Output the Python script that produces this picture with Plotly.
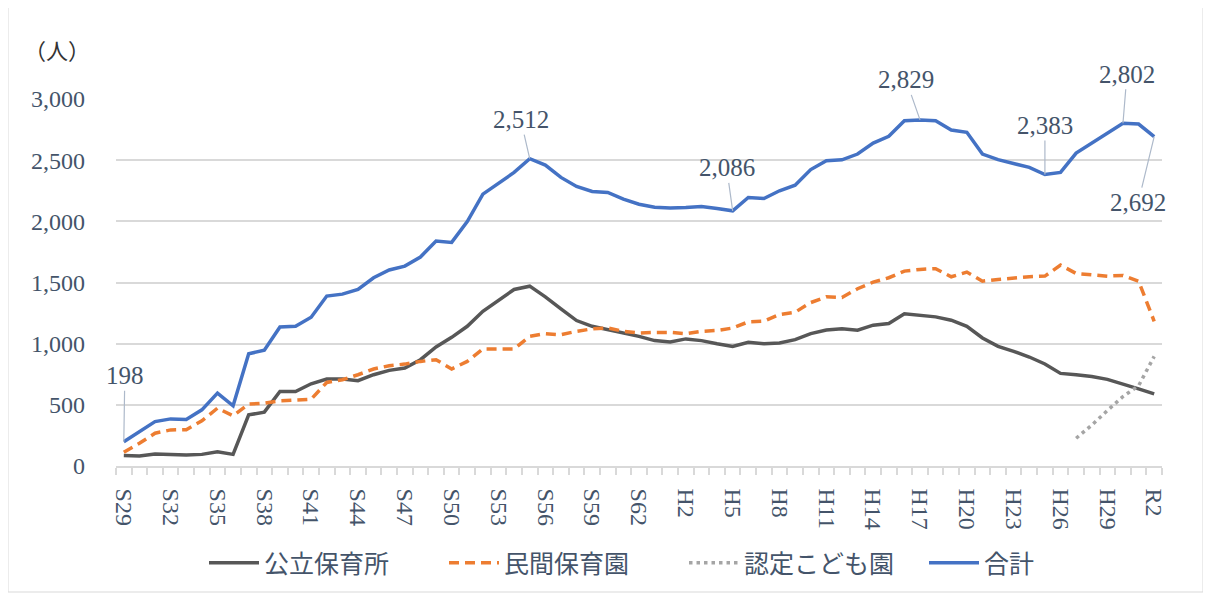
import plotly.graph_objects as go

years = list(range(1954, 2021))
tick_labels = ["S29", "S32", "S35", "S38", "S41", "S44", "S47", "S50", "S53", "S56", "S59", "S62",
               "H2", "H5", "H8", "H11", "H14", "H17", "H20", "H23", "H26", "H29", "R2"]
tick_years = [1954, 1957, 1960, 1963, 1966, 1969, 1972, 1975, 1978, 1981, 1984, 1987,
              1990, 1993, 1996, 1999, 2002, 2005, 2008, 2011, 2014, 2017, 2020]

public = [85, 82, 98, 95, 90, 95, 117, 95, 418, 440, 609, 609, 672, 711, 711, 697, 746, 782, 801, 869,
          973, 1052, 1142, 1265, 1353, 1443, 1470, 1383, 1285, 1189, 1142, 1115, 1082, 1060, 1025, 1014,
          1039, 1025, 1000, 978, 1011, 1000, 1005, 1033, 1082, 1112, 1122, 1110, 1151, 1164, 1244, 1233,
          1219, 1192, 1142, 1047, 978, 937, 891, 834, 757, 746, 732, 708, 671, 630, 589]
private = [113, 186, 268, 295, 297, 369, 473, 410, 506, 514, 533, 541, 546, 683, 705, 746, 793, 820, 833, 855,
           869, 793, 855, 957, 957, 957, 1060, 1082, 1073, 1101, 1121, 1128, 1101, 1087, 1092, 1092,
           1082, 1101, 1108, 1128, 1178, 1184, 1238, 1257, 1336, 1383, 1378, 1449, 1503, 1539, 1593, 1607,
           1613, 1547, 1585, 1511, 1525, 1539, 1547, 1552, 1642, 1574, 1566, 1552, 1558, 1511, 1183]
kodomoen = [None] * 61 + [227, 334, 453, 568, 656, 896]
total = [198, 281, 363, 385, 380, 459, 596, 492, 918, 946, 1137, 1143, 1216, 1389, 1405, 1443, 1539, 1602,
         1634, 1708, 1839, 1828, 1998, 2222, 2308, 2400, 2512, 2460, 2359, 2285, 2244, 2236, 2181, 2140,
         2116, 2110, 2113, 2121, 2105, 2086, 2195, 2187, 2250, 2296, 2423, 2496, 2503, 2550, 2640, 2695,
         2823, 2829, 2822, 2747, 2728, 2550, 2504, 2474, 2441, 2383, 2400, 2558, 2640, 2720, 2802, 2795, 2692]

# labelled points of the total line: (year, x offset px, y offset px)
label_points = [(1954, 1, -66), (1980, -9, -39), (1993, -6, -43), (2005, -14, -40),
                (2013, 0, -49), (2018, 4, -49), (2020, -16, 66)]

TEXT = "#44546a"
GRID = "#d9d9d9"
NUMFONT = "Liberation Serif, Noto Sans CJK JP"
JPFONT = "Noto Sans CJK JP, Noto Sans"

# page body has an 8px margin: work in screen coords minus 8
OFF = 8
W, H = 1211 - OFF, 599 - OFF
L, T = 116 - OFF, 99 - OFF
pw, ph = 1046, 367
R = W - L - pw
B = H - T - ph


def px(xs):
    return (xs - OFF - L) / pw


def py(ys):
    return (T + ph - (ys - OFF)) / ph


fig = go.Figure()
fig.add_trace(go.Scatter(x=years, y=public, name="公立保育所", mode="lines",
                         line=dict(color="#575757", width=3.5)))
fig.add_trace(go.Scatter(x=years, y=private, name="民間保育園", mode="lines",
                         line=dict(color="#ed7d31", width=3.5, dash="10px,6px")))
fig.add_trace(go.Scatter(x=years, y=kodomoen, name="認定こども園", mode="lines",
                         line=dict(color="#a5a5a5", width=3.5, dash="3.5px,4px")))
fig.add_trace(go.Scatter(x=years, y=total, name="合計", mode="lines",
                         line=dict(color="#4472c4", width=3.5)))

for yr, ax, ay in label_points:
    v = total[years.index(yr)]
    fig.add_annotation(x=yr, y=v, text=f"{v:,}", showarrow=True, arrowhead=0, arrowwidth=1.2,
                       arrowcolor="#adb9ca", ax=ax, ay=ay, standoff=0,
                       font=dict(family=NUMFONT, size=25, color=TEXT))

fig.add_annotation(x=px(57), y=py(49), xref="paper", yref="paper", text="（人）",
                   xanchor="center", yanchor="middle",
                   showarrow=False, font=dict(family=JPFONT, size=22, color="#333333"))

fig.add_shape(type="rect", xref="paper", yref="paper",
              x0=px(8), x1=px(1203), y0=py(592), y1=py(7),
              line=dict(color=GRID, width=1), fillcolor="rgba(0,0,0,0)", layer="below")

fig.update_layout(
    width=W, height=H,
    margin=dict(l=L, r=R, t=T, b=B, autoexpand=False),
    paper_bgcolor="white", plot_bgcolor="white",
    showlegend=True,
    legend=dict(orientation="h", x=px(204), xanchor="left", y=py(563), yanchor="middle",
                font=dict(family=JPFONT, size=25, color=TEXT), entrywidth=175, entrywidthmode="pixels",
                itemwidth=50, bgcolor="rgba(0,0,0,0)"),
    xaxis=dict(range=[1953.5, 2020.5], tickmode="array", tickvals=tick_years, ticktext=tick_labels,
               tickangle=90, ticks="", showgrid=False, showline=True, linecolor=GRID, linewidth=1.5,
               zeroline=False, ticklabelstandoff=16, automargin=False,
               tickfont=dict(family=NUMFONT, size=24, color=TEXT),
               minor=dict(tickmode="array", tickvals=[y - 0.5 for y in years + [2021]],
                          ticks="outside", ticklen=7, tickcolor=GRID, tickwidth=1.5, showgrid=False)),
    yaxis=dict(range=[0, 3000], tickmode="linear", tick0=0, dtick=500, tickformat=",",
               showgrid=True, gridcolor=GRID, gridwidth=1.5, zeroline=False, showline=False,
               ticks="", ticklabelstandoff=30, automargin=False,
               tickfont=dict(family=NUMFONT, size=24, color=TEXT)),
)

fig.write_html("out.html")
